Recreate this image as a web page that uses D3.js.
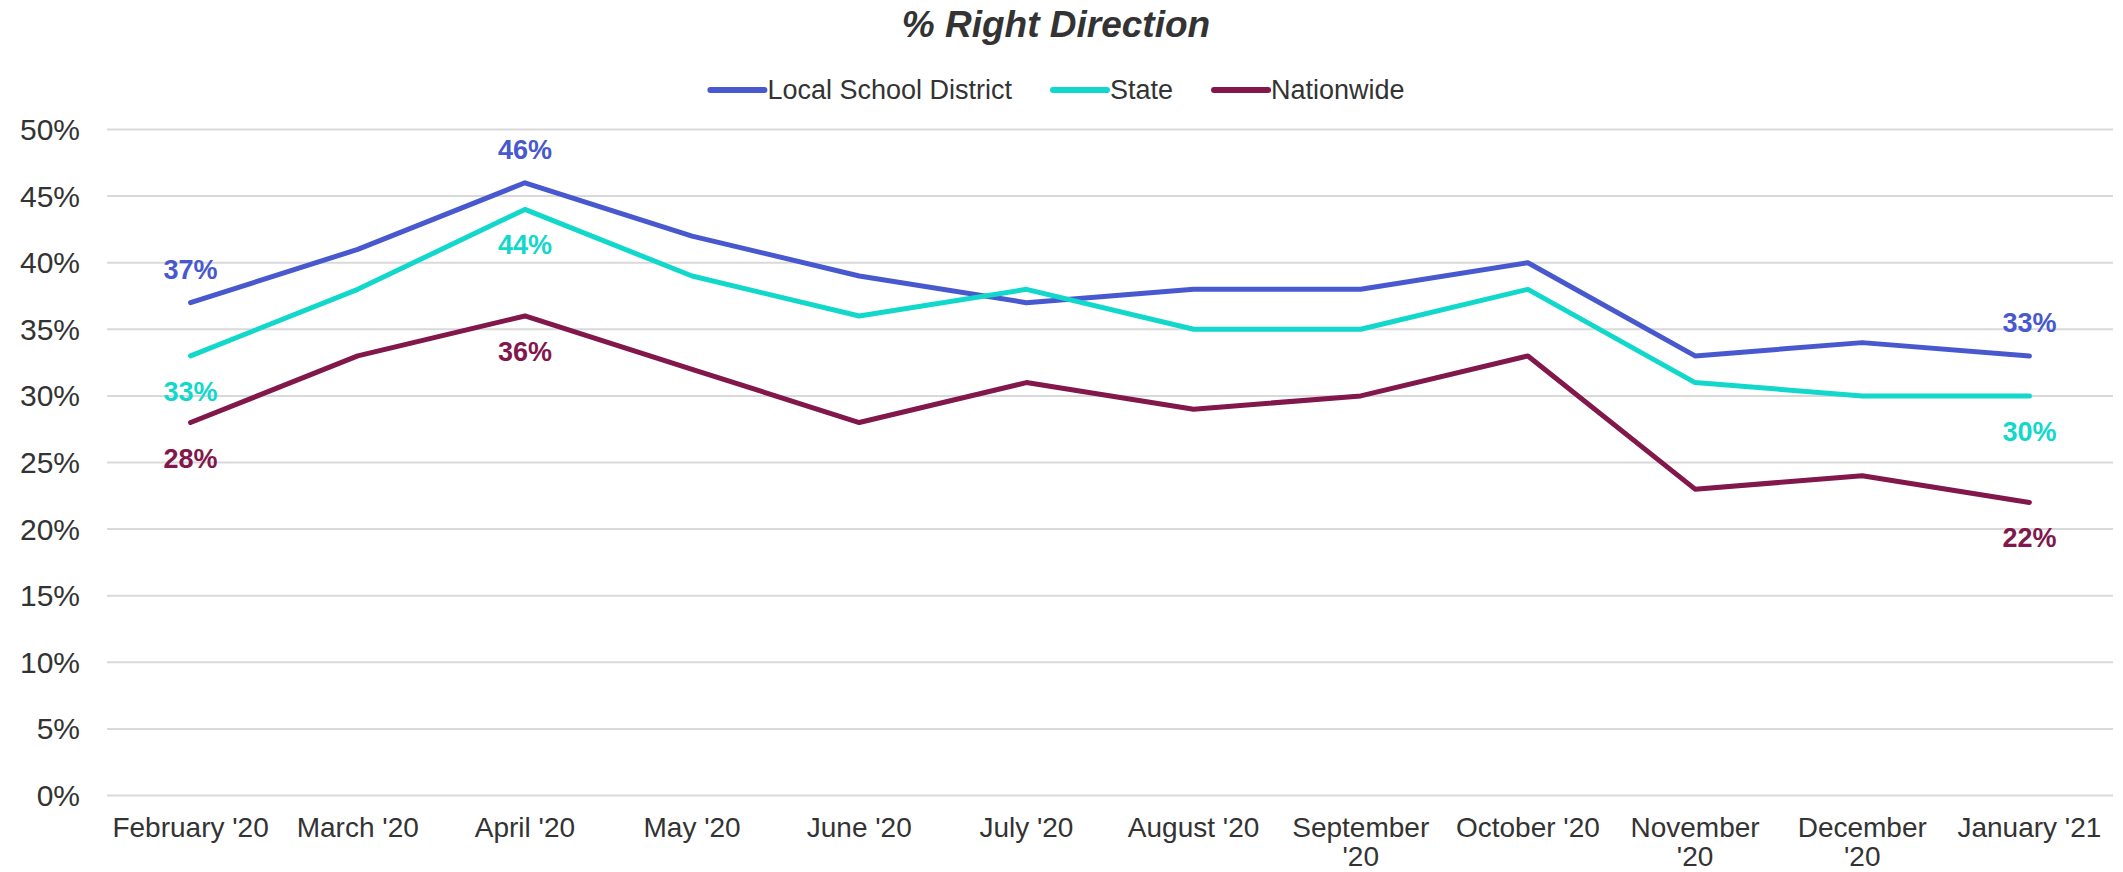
<!DOCTYPE html>
<html>
<head>
<meta charset="utf-8">
<script src="https://cdn.jsdelivr.net/npm/d3@7"></script>
<style>
  body { margin: 0; background: #fff; }
  svg { display: block; font-family: "Liberation Sans", Arial, sans-serif; }
</style>
</head>
<body>
<svg id="chart" width="2123" height="872"></svg>
<script>
// data
var months = ["February '20", "March '20", "April '20", "May '20", "June '20", "July '20",
  "August '20", "September '20", "October '20", "November '20", "December '20", "January '21"];
var localDistrict = [37, 41, 46, 42, 39, 37, 38, 38, 40, 33, 34, 33];
var stateVals = [33, 38, 44, 39, 36, 38, 35, 35, 38, 31, 30, 30];
var nationwide = [28, 33, 36, 32, 28, 31, 29, 30, 33, 23, 24, 22];
var yTicks = [0, 5, 10, 15, 20, 25, 30, 35, 40, 45, 50];
// which points carry a value label, and on which side of the line
var labelled = [0, 2, 11];
var labelSide = { "Local School District": "above", "State": "below", "Nationwide": "below" };

var series = [
  { name: "Local School District", values: localDistrict, color: "#4858cf" },
  { name: "State", values: stateVals, color: "#12d8cb" },
  { name: "Nationwide", values: nationwide, color: "#82174c" }
];

var svg = d3.select("#chart");
var margin = { left: 107, right: 10, top: 129.5, bottom: 76.5 };
var W = 2123, H = 872;

var x = d3.scaleBand().domain(months).range([margin.left, W - margin.right]);
var y = d3.scaleLinear().domain([0, 50]).range([H - margin.bottom, margin.top]);

// gridlines
svg.append("g")
  .selectAll("line")
  .data(yTicks)
  .enter()
  .append("line")
  .attr("x1", margin.left)
  .attr("x2", W - margin.right)
  .attr("y1", function(d) { return y(d); })
  .attr("y2", function(d) { return y(d); })
  .style("stroke", "#d9d9d9")
  .style("stroke-width", 2);

// y labels
svg.append("g")
  .selectAll("text")
  .data(yTicks)
  .enter()
  .append("text")
  .attr("x", 80)
  .attr("y", function(d) { return y(d); })
  .attr("dy", "0.35em")
  .attr("text-anchor", "end")
  .style("font-size", "30px")
  .style("fill", "#333")
  .text(function(d) { return d + "%"; });

// x labels, wrapped when wider than the band
var xl = svg.append("g")
  .selectAll("text")
  .data(months)
  .enter()
  .append("text")
  .attr("x", function(d) { return x(d) + x.bandwidth() / 2; })
  .attr("y", 837)
  .attr("text-anchor", "middle")
  .style("font-size", "28px")
  .style("fill", "#333")
  .text(function(d) { return d; });

xl.each(function(d) {
  var t = d3.select(this);
  if (this.getComputedTextLength() > x.bandwidth() - 6) {
    var parts = d.split(" ");
    var cx = t.attr("x");
    t.text(null);
    t.append("tspan").attr("x", cx).text(parts[0]);
    t.append("tspan").attr("x", cx).attr("dy", 29).text(parts.slice(1).join(" "));
  }
});

// lines
var line = d3.line()
  .x(function(d, i) { return x(months[i]) + x.bandwidth() / 2; })
  .y(function(d) { return y(d); });

svg.append("g")
  .selectAll("path")
  .data(series)
  .enter()
  .append("path")
  .attr("d", function(s) { return line(s.values); })
  .style("fill", "none")
  .style("stroke", function(s) { return s.color; })
  .style("stroke-width", 5)
  .style("stroke-linecap", "round")
  .style("stroke-linejoin", "round");

// value labels
series.forEach(function(s) {
  svg.append("g")
    .selectAll("text")
    .data(labelled)
    .enter()
    .append("text")
    .attr("x", function(i) { return x(months[i]) + x.bandwidth() / 2; })
    .attr("y", function(i) { return y(s.values[i]) + (labelSide[s.name] == "above" ? -24 : 45); })
    .attr("text-anchor", "middle")
    .style("font-size", "27px")
    .style("font-weight", "bold")
    .style("fill", s.color)
    .text(function(i) { return s.values[i] + "%"; });
});

// title
svg.append("text")
  .attr("x", 1056)
  .attr("y", 37)
  .attr("text-anchor", "middle")
  .style("font-size", "37px")
  .style("font-weight", "bold")
  .style("font-style", "italic")
  .style("fill", "#333")
  .text("% Right Direction");

// legend
var legend = svg.append("g").attr("class", "legend");
var items = legend.selectAll("g")
  .data(series)
  .enter()
  .append("g");

items.append("line")
  .attr("x1", 3).attr("x2", 57)
  .attr("y1", 0).attr("y2", 0)
  .style("stroke", function(d) { return d.color; })
  .style("stroke-width", 6)
  .style("stroke-linecap", "round");

items.append("text")
  .attr("x", 60)
  .attr("dy", "0.35em")
  .style("font-size", "27px")
  .style("fill", "#333")
  .text(function(d) { return d.name; });

var pos = 0;
items.each(function() {
  var g = d3.select(this);
  g.attr("transform", "translate(" + pos + ",0)");
  pos += 60 + g.select("text").node().getComputedTextLength() + 38;
});
pos -= 38;
legend.attr("transform", "translate(" + (1056 - pos / 2) + ",90)");
</script>
</body>
</html>
